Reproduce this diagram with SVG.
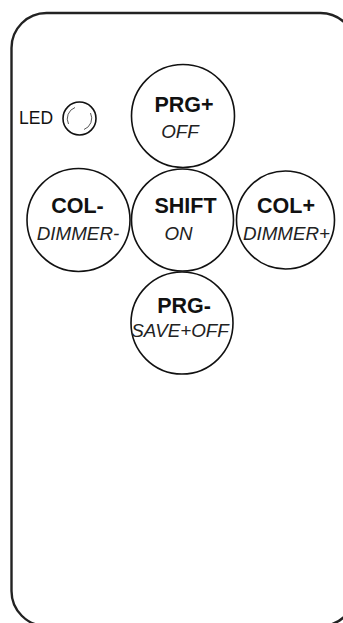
<svg xmlns="http://www.w3.org/2000/svg" width="343" height="623" viewBox="0 0 343 623">
<style>
.body{fill:#fff;stroke:#222;stroke-width:2.4}
.btn{fill:#fff;stroke:#111;stroke-width:1.6}
.b{font-family:"Liberation Sans",Arial,sans-serif;font-weight:bold;font-size:21.5px;fill:#111;text-anchor:middle}
.i{font-family:"Liberation Sans",Arial,sans-serif;font-style:italic;font-size:18.8px;fill:#222;text-anchor:middle}
.led{font-family:"Liberation Sans",Arial,sans-serif;font-size:17.5px;fill:#111}
</style>
<rect width="343" height="623" fill="#fff"/>
<rect class="body" x="11.5" y="13" width="344" height="613" rx="35" ry="35"/>
<g id="led">
<text class="led" x="19" y="124">LED</text>
<circle cx="79.5" cy="118.5" r="16.5" fill="#fff" stroke="#111" stroke-width="1.6"/>
<path d="M68.5 124 A12 12 0 0 1 75 107.5" fill="none" stroke="#444" stroke-width="0.9"/>
<path d="M90.5 113 A12 12 0 0 1 84 129.5" fill="none" stroke="#444" stroke-width="0.9"/>
</g>
<g id="prg-plus">
<circle class="btn" cx="183" cy="116" r="51.5"/>
<text class="b" x="184" y="112">PRG+</text>
<text class="i" x="180" y="138">OFF</text>
</g>
<g id="col-minus">
<circle class="btn" cx="78.5" cy="220" r="51.5"/>
<text class="b" x="77.5" y="213">COL-</text>
<text class="i" x="78" y="240">DIMMER-</text>
</g>
<g id="shift">
<circle class="btn" cx="182.5" cy="220" r="51"/>
<text class="b" x="185.5" y="213">SHIFT</text>
<text class="i" x="178.5" y="240">ON</text>
</g>
<g id="col-plus">
<circle class="btn" cx="285.5" cy="220" r="49"/>
<text class="b" x="286" y="213">COL+</text>
<text class="i" x="286.5" y="240">DIMMER+</text>
</g>
<g id="prg-minus">
<circle class="btn" cx="182" cy="323" r="51"/>
<text class="b" x="184" y="313">PRG-</text>
<text class="i" x="180" y="337">SAVE+OFF</text>
</g>
<g id="connectors"></g>
</svg>
